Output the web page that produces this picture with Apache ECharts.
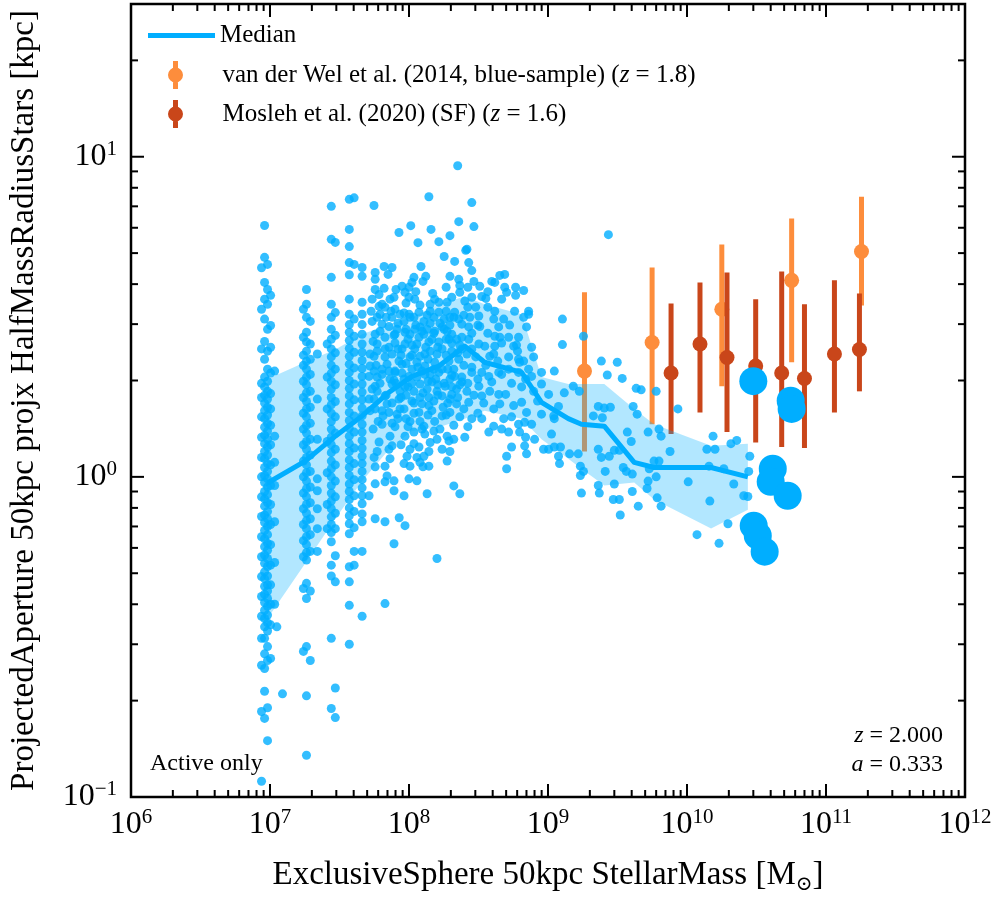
<!DOCTYPE html>
<html>
<head>
<meta charset="utf-8">
<title>Size - stellar mass relation</title>
<script src="https://cdn.jsdelivr.net/npm/echarts@6/dist/echarts.min.js"></script>
<style>
  html, body { margin: 0; padding: 0; background: #fff; }
  #chart { width: 996px; height: 900px; }
</style>
</head>
<body>
<div id="chart"></div>
<script>
// ---------- values ----------
var medianMass   = [9.6e6, 1.79e7, 2.95e7, 4.6e7, 7.2e7, 1.05e8, 1.64e8, 2.52e8, 3.5e8, 6.46e8, 8.98e8, 1.40e9, 1.74e9, 2.54e9, 4.17e9, 5.8e9, 1.49e10, 2.74e10];
var medianRadius = [0.957, 1.12, 1.34, 1.55, 1.84, 2.06, 2.22, 2.56, 2.28, 2.12, 1.71, 1.52, 1.46, 1.44, 1.11, 1.07, 1.07, 1.0];
var bandUpper    = [2.02, 2.28, 2.50, 2.79, 3.0, 3.15, 3.46, 3.66, 3.46, 3.22, 2.05, 1.95, 1.95, 1.95, 1.63, 1.46, 1.25, 1.27];
var bandLower    = [0.361, 0.536, 0.74, 0.97, 1.22, 1.39, 1.43, 1.52, 1.61, 1.52, 1.31, 1.14, 1.06, 0.94, 0.96, 0.85, 0.69, 0.79];

var vdwMass   = [1.83e9, 5.61e9, 1.78e10, 5.66e10, 1.80e11];
var vdwRadius = [2.14, 2.63, 3.34, 4.11, 5.06];
var vdwLow    = [1.20, 1.46, 1.92, 2.28, 3.43];
var vdwHigh   = [3.77, 4.51, 5.32, 6.41, 7.5];

var moslehMass   = [7.68e9, 1.24e10, 1.94e10, 3.12e10, 4.80e10, 7.0e10, 1.15e11, 1.74e11];
var moslehRadius = [2.11, 2.60, 2.36, 2.22, 2.11, 2.03, 2.42, 2.50];
var moslehLow    = [1.36, 1.59, 1.38, 1.28, 1.24, 1.23, 1.59, 1.85];
var moslehHigh   = [3.48, 4.05, 4.35, 3.59, 4.38, 3.46, 4.11, 3.74];

// galaxies at the low-mass resolution steps (one mass per column)
var columnMass = [8.69e6, 9.14e6, 9.6e6, 1.01e7, 1.08e7, 1.74e7, 1.83e7, 1.95e7, 2.19e7, 2.58e7, 2.76e7, 2.95e7, 3.72e7, 4.03e7, 4.6e7];
var columnRadius = [
  [4.5, 3.34, 2.51, 1.96, 1.77, 1.54, 1.33, 1.15, 1.0, 0.866, 0.752, 0.65, 0.563, 0.488, 0.423, 0.367, 0.313, 0.258, 0.185, 0.112],
  [6.1, 4.85, 4.05, 3.59, 3.11, 2.65, 2.33, 2.05, 1.91, 1.80, 1.70, 1.61, 1.52, 1.43, 1.35, 1.27, 1.20, 1.14, 1.07, 1.01, 0.96, 0.90, 0.854, 0.81, 0.76, 0.72, 0.68, 0.641, 0.605, 0.57, 0.537, 0.505, 0.481, 0.455, 0.43, 0.405, 0.383, 0.361, 0.34, 0.313, 0.28, 0.252, 0.214, 0.176],
  [4.61, 3.85, 3.46, 2.89, 2.47, 2.17, 1.99, 1.85, 1.75, 1.65, 1.56, 1.47, 1.39, 1.31, 1.24, 1.17, 1.10, 1.04, 0.986, 0.93, 0.88, 0.83, 0.78, 0.74, 0.70, 0.66, 0.62, 0.59, 0.556, 0.525, 0.49, 0.46, 0.44, 0.417, 0.394, 0.37, 0.35, 0.33, 0.295, 0.267, 0.19, 0.15],
  [3.69, 2.97, 2.54, 2.11, 1.82, 1.63, 1.45, 1.26, 1.09, 0.94, 0.82, 0.71, 0.614, 0.53, 0.46, 0.40, 0.345, 0.271],
  [2.14, 1.34, 1.11, 0.94, 0.724, 0.54, 0.40],
  [3.34, 2.73, 2.40, 2.23, 1.99, 1.77, 1.58, 1.41, 1.26, 1.12, 1.0, 0.89, 0.795, 0.71, 0.632, 0.563, 0.448, 0.285],
  [3.85, 3.46, 3.15, 2.83, 2.64, 2.47, 2.30, 2.17, 2.05, 1.94, 1.83, 1.72, 1.63, 1.54, 1.45, 1.37, 1.29, 1.22, 1.15, 1.09, 1.03, 0.97, 0.918, 0.866, 0.82, 0.77, 0.73, 0.689, 0.65, 0.614, 0.58, 0.55, 0.465, 0.417, 0.295, 0.207, 0.135],
  [3.06, 2.60, 2.33, 2.09, 1.85, 1.65, 1.47, 1.31, 1.17, 1.04, 0.93, 0.83, 0.74, 0.66, 0.585, 0.44, 0.267],
  [2.42, 1.75, 1.31, 0.986, 0.905, 0.795, 0.689, 0.585],
  [2.6, 2.05, 1.63, 1.29, 1.03, 0.82, 0.689],
  [7.0, 5.52, 4.2, 3.46, 3.15, 2.89, 2.69, 2.51, 2.37, 2.23, 2.11, 1.99, 1.88, 1.77, 1.68, 1.58, 1.49, 1.41, 1.33, 1.26, 1.19, 1.12, 1.06, 1.0, 0.94, 0.89, 0.84, 0.795, 0.75, 0.71, 0.67, 0.627, 0.53, 0.49, 0.313, 0.189],
  [5.4, 3.26, 2.77, 2.44, 2.17, 1.94, 1.72, 1.54, 1.37, 1.22, 1.09, 0.97, 0.866, 0.77, 0.689, 0.567, 0.47, 0.219, 0.177],
  [7.36, 5.93, 5.24, 4.67, 4.28, 3.59, 3.22, 2.99, 2.83, 2.67, 2.52, 2.38, 2.25, 2.12, 2.0, 1.89, 1.79, 1.69, 1.59, 1.50, 1.42, 1.34, 1.27, 1.20, 1.13, 1.07, 1.01, 0.95, 0.90, 0.85, 0.80, 0.756, 0.714, 0.664, 0.524, 0.47, 0.397, 0.30],
  [7.44, 4.61, 3.11, 2.75, 2.45, 2.19, 1.95, 1.74, 1.55, 1.38, 1.23, 1.10, 0.98, 0.873, 0.78, 0.694, 0.585, 0.53],
  [4.51, 4.23, 3.51, 3.22, 2.99, 2.79, 2.60, 2.45, 2.31, 2.18, 2.06, 1.95, 1.84, 1.74, 1.64, 1.55, 1.46, 1.38, 1.30, 1.23, 1.16, 1.10, 1.04, 0.98, 0.924, 0.873, 0.824, 0.766, 0.724, 0.585, 0.367]
];

// galaxies in the continuous part of the cloud: [mass, radius]
var cloudPoints = [
  [5.6e7, 7.04], [8.47e7, 5.80], [1.03e8, 6.09], [1.39e8, 7.50], [1.44e8, 5.93], [1.16e8, 5.39], [1.64e8, 5.43],
  [1.97e8, 5.67], [2.24e8, 9.37], [2.83e8, 7.19], [2.28e8, 6.27], [2.93e8, 6.05], [2.61e8, 5.14],
  [1.79e8, 4.88], [2.56e8, 5.10], [2.13e8, 4.71], [2.69e8, 4.67], [2.83e8, 4.41], [1.22e8, 4.54], [5.71e7, 4.35],
  [6.62e7, 4.54], [7.55e7, 4.51], [7.07e7, 4.29], [5.71e7, 4.14], [1.97e8, 4.23], [2.28e8, 4.14], [1.32e8, 4.23],
  [1.085e8, 4.20], [1.26e8, 4.08], [1.05e8, 4.05], [4.50e8, 4.26], [4.88e8, 4.29], [4.14e8, 4.05], [3.94e8, 4.08],
  [8.91e7, 3.94], [1.0e8, 3.91], [5.71e7, 3.85], [6.62e7, 3.88], [6.09e7, 3.71], [9.36e7, 3.77], [1.12e8, 3.79],
  [1.48e8, 3.74], [2.32e8, 3.77], [2.65e8, 3.91], [3.23e8, 3.94], [4.88e8, 3.91], [5.85e8, 3.91], [6.68e8, 3.82],
  [7.80e7, 3.64], [7.30e7, 3.59], [1.0e8, 3.64], [1.10e8, 3.59], [2.83e8, 3.64], [3.34e8, 3.66], [3.57e8, 3.61],
  [5.04e8, 3.77], [1.42e8, 3.46], [1.64e8, 3.51], [1.88e8, 3.51], [2.52e8, 3.54], [3.02e8, 3.39], [3.69e8, 3.39],
  [4.14e8, 3.29], [5.75e8, 3.29], [7.25e8, 3.29], [7.25e8, 3.22], [6.09e7, 3.41], [6.72e7, 3.39], [7.93e7, 3.34],
  [8.62e7, 3.22], [1.0e8, 3.22], [1.18e8, 3.27], [1.42e8, 3.29], [1.64e8, 3.27], [2.13e8, 3.27], [2.28e8, 3.11],
  [1.97e8, 3.15], [2.74e8, 3.15], [3.18e8, 3.18], [3.23e8, 2.95], [2.69e8, 2.94], [2.40e8, 3.0], [4.80e8, 3.11],
  [4.42e8, 2.94], [7.01e8, 2.94], [4.14e8, 2.75], [4.50e8, 2.73], [5.21e8, 2.73], [6.14e8, 2.73], [5.66e8, 2.56],
  [5.94e8, 2.58], [7.62e8, 2.54], [7.88e8, 2.37], [6.68e8, 2.30], [6.25e8, 2.28], [5.21e8, 2.37], [4.14e8, 2.56],
  [4.07e8, 2.42], [3.81e8, 2.38], [3.51e8, 2.56], [3.18e8, 2.60], [2.69e8, 2.69], [2.40e8, 2.73], [2.20e8, 2.69],
  [2.03e8, 2.79], [1.73e8, 2.94], [1.53e8, 2.85], [1.35e8, 2.89], [1.28e8, 2.79], [1.10e8, 2.89], [9.36e7, 2.83],
  [7.93e7, 2.79], [7.18e7, 2.95], [6.40e7, 3.0], [5.43e7, 3.06], [5.71e7, 2.79], [6.72e7, 2.73], [5.90e7, 2.60],
  [7.18e7, 2.54], [8.91e7, 2.51], [1.14e8, 2.60], [1.39e8, 2.64], [1.64e8, 2.64], [1.94e8, 2.69], [1.73e8, 2.51],
  [1.42e8, 2.47], [1.20e8, 2.38], [1.017e8, 2.37], [8.47e7, 2.30], [6.72e7, 2.37], [5.61e7, 2.38], [5.25e7, 2.22],
  [6.40e7, 2.17], [7.93e7, 2.14], [1.05e8, 2.17], [1.30e8, 2.22], [1.53e8, 2.28], [1.94e8, 2.30], [2.28e8, 2.33],
  [2.83e8, 2.20], [3.34e8, 2.12], [4.42e8, 2.12], [5.21e8, 2.17], [6.14e8, 2.33], [7.25e8, 2.17],
  [6.19e7, 3.22], [7.55e7, 3.15], [9.21e7, 3.06], [1.085e8, 3.15], [1.28e8, 3.06], [1.51e8, 3.15], [1.79e8, 3.11],
  [8.20e7, 2.89], [1.017e8, 2.79], [1.20e8, 2.94], [1.46e8, 2.69], [1.88e8, 2.85], [5.90e7, 2.47], [7.55e7, 2.42],
  [9.36e7, 2.60], [1.10e8, 2.51], [1.30e8, 2.42], [1.59e8, 2.42], [2.03e8, 2.47], [2.40e8, 2.51], [6.95e7, 2.25],
  [8.91e7, 2.25], [1.14e8, 2.28], [1.42e8, 2.09], [1.73e8, 2.17], [2.10e8, 2.17], [2.61e8, 2.42], [2.83e8, 2.51],
  [5.90e7, 2.05], [7.30e7, 2.02], [9.21e7, 2.02], [1.14e8, 2.05], [1.97e8, 2.02], [2.40e8, 2.05],
  [5.16e7, 2.06], [6.40e7, 2.09], [7.93e7, 2.12], [1.0e8, 2.06], [1.30e8, 2.09], [1.64e8, 2.12], [2.13e8, 2.06],
  [2.83e8, 2.12], [3.75e8, 2.06], [4.64e8, 2.09], [6.14e8, 2.12], [7.62e8, 2.06], [8.98e8, 2.12],
  [5.71e7, 1.92], [7.55e7, 1.95], [9.36e7, 1.91], [1.20e8, 1.95], [1.46e8, 1.98], [1.82e8, 1.92], [2.40e8, 1.98],
  [3.18e8, 1.92], [3.94e8, 1.98], [4.42e8, 1.81], [6.46e8, 1.91], [8.98e8, 1.95], [1.01e9, 1.81],
  [5.90e7, 1.85], [8.62e7, 1.85], [1.085e8, 1.85], [1.35e8, 1.88], [1.59e8, 1.85], [2.20e8, 1.88], [2.61e8, 1.85],
  [5.16e7, 1.75], [6.72e7, 1.79], [8.47e7, 1.75], [1.05e8, 1.725], [1.39e8, 1.77], [1.73e8, 1.79], [2.03e8, 1.81],
  [2.69e8, 1.71], [3.34e8, 1.79], [4.50e8, 1.69], [6.46e8, 1.71], [7.01e8, 1.59], [1.10e9, 1.55], [1.19e9, 1.66],
  [6.95e7, 1.69], [1.24e8, 1.69], [1.51e8, 1.725], [2.20e8, 1.69], [8.20e7, 1.57],
  [5.71e7, 1.63], [7.18e7, 1.59], [9.21e7, 1.63], [1.017e8, 1.49], [1.18e8, 1.59], [1.46e8, 1.61], [1.73e8, 1.55],
  [1.97e8, 1.59], [2.32e8, 1.54], [5.47e8, 1.54], [4.80e8, 1.52], [6.14e8, 1.46], [6.79e8, 1.48], [8.98e8, 1.57],
  [1.11e9, 1.52], [6.40e7, 1.46], [7.93e7, 1.435], [9.36e7, 1.34], [1.28e8, 1.44], [1.51e8, 1.39], [1.30e8, 1.36],
  [1.59e8, 1.31], [1.88e8, 1.34], [1.94e8, 1.295], [2.52e8, 1.33], [3.75e8, 1.38], [4.07e8, 1.44], [5.21e8, 1.38],
  [6.25e8, 1.38], [6.90e8, 1.33], [8.01e8, 1.31], [1.06e9, 1.36],
  [6.09e7, 1.285], [7.55e7, 1.25], [1.085e8, 1.27], [1.18e8, 1.24], [1.39e8, 1.20], [1.73e8, 1.22], [1.97e8, 1.20],
  [5.04e8, 1.16], [5.47e8, 1.24], [6.79e8, 1.25], [7.01e8, 1.18], [9.29e8, 1.22], [1.01e9, 1.22], [1.11e9, 1.24],
  [1.23e9, 1.24], [5.90e7, 1.20], [7.18e7, 1.22], [9.68e7, 1.16], [1.14e8, 1.15], [1.28e8, 1.16], [1.20e8, 1.11],
  [1.88e8, 1.12], [5.71e7, 1.075], [6.72e7, 1.08], [9.21e7, 1.10], [1.39e8, 1.08], [1.017e8, 1.08], [5.04e8, 1.06],
  [1.19e9, 1.16], [1.21e9, 1.10],
  [6.95e7, 1.007], [7.80e7, 0.972], [6.72e7, 0.965], [1.0e8, 0.986], [1.14e8, 0.972], [2.10e8, 0.937], [2.32e8, 0.886],
  [1.35e8, 0.886], [9.21e7, 0.873], [7.80e7, 0.905], [5.71e7, 0.951], [5.16e7, 0.873],
  [8.5e7, 0.745], [7.8e7, 0.618], [6.72e7, 0.724], [5.71e7, 0.74], [9.36e7, 0.704], [6.72e7, 0.402], [1.59e8, 0.556],
  // denser core of the cloud
  [5.34e7, 3.29], [6.84e7, 3.15], [8.33e7, 3.02], [5.52e7, 2.65], [7.93e7, 2.62], [5.25e7, 2.42], [8.76e7, 2.40],
  [5.80e7, 2.23], [7.80e7, 2.0], [5.43e7, 1.88], [6.84e7, 1.80], [8.76e7, 1.77], [5.25e7, 1.61], [6.51e7, 1.55],
  [8.33e7, 1.52], [5.52e7, 1.41], [7.30e7, 1.34], [8.76e7, 1.26], [5.61e7, 1.15], [7.30e7, 1.14], [6.40e7, 3.46],
  [8.06e7, 3.85], [5.43e7, 3.59],
  [9.52e7, 3.49], [1.20e8, 3.44], [1.53e8, 3.59], [1.017e8, 3.15], [1.35e8, 3.20], [1.67e8, 3.02], [9.52e7, 2.89],
  [1.18e8, 2.73], [1.51e8, 2.81], [1.05e8, 2.58], [1.32e8, 2.54], [9.52e7, 2.26], [1.24e8, 2.14], [1.56e8, 2.02],
  [9.84e7, 1.91], [1.26e8, 1.83], [1.61e8, 1.94], [1.085e8, 1.70], [1.39e8, 1.67], [1.76e8, 1.65], [9.52e7, 1.52],
  [1.20e8, 1.49], [1.53e8, 1.49], [1.085e8, 1.38], [1.42e8, 1.28], [1.017e8, 1.22], [1.26e8, 1.075],
  [1.85e8, 3.91], [2.32e8, 3.96], [2.93e8, 4.08], [2.03e8, 3.64], [2.65e8, 3.39], [1.85e8, 3.29], [2.48e8, 3.20],
  [3.13e8, 2.98], [1.97e8, 2.98], [2.83e8, 2.81], [1.85e8, 2.69], [2.32e8, 2.58], [3.02e8, 2.37], [1.90e8, 2.17],
  [2.48e8, 2.23], [3.13e8, 2.02], [2.03e8, 1.91], [2.65e8, 1.96], [2.24e8, 1.77], [2.93e8, 1.80], [1.90e8, 1.70],
  [2.48e8, 1.63], [3.13e8, 1.58], [2.10e8, 1.45], [2.65e8, 1.435],
  [3.69e8, 3.79], [4.64e8, 3.59], [5.85e8, 3.69], [4.07e8, 3.11], [5.30e8, 2.98], [6.68e8, 3.15], [3.69e8, 2.81],
  [4.64e8, 2.62], [6.04e8, 2.47], [3.57e8, 2.23], [4.35e8, 2.30], [5.47e8, 1.96], [6.90e8, 2.02], [3.81e8, 1.85],
  [4.96e8, 1.81], [7.88e8, 1.85], [4.07e8, 1.63], [5.66e8, 1.67], [8.41e8, 1.725], [3.34e8, 1.52], [4.64e8, 1.41],
  [7.62e8, 1.46],
  [5.90e7, 3.15], [7.42e7, 3.29], [9.21e7, 3.25], [1.12e8, 2.98], [1.42e8, 3.02], [1.79e8, 2.89], [2.10e8, 3.15],
  [6.19e7, 2.85], [7.80e7, 2.77], [9.84e7, 2.69], [1.24e8, 2.85], [1.61e8, 2.54], [2.03e8, 2.62],
  [6.72e7, 2.51], [8.33e7, 2.51], [1.05e8, 2.40], [1.37e8, 2.33], [1.85e8, 2.40], [2.24e8, 2.44],
  [5.61e7, 2.14], [7.18e7, 2.14], [8.91e7, 2.11], [1.16e8, 2.20], [1.51e8, 2.17], [2.03e8, 2.08],
  [6.19e7, 1.96], [8.06e7, 1.96], [1.05e8, 1.96], [1.37e8, 1.99], [1.79e8, 1.96], [2.32e8, 1.94],
  [5.61e7, 1.75], [7.55e7, 1.70], [9.52e7, 1.80], [1.20e8, 1.77], [1.61e8, 1.80], [1.97e8, 1.75],
  [6.40e7, 1.61], [8.62e7, 1.63], [1.085e8, 1.58], [1.37e8, 1.56], [1.85e8, 1.56],
  [6.0e7, 1.49], [7.55e7, 1.47], [9.84e7, 1.435], [1.24e8, 1.41], [1.67e8, 1.41], [2.10e8, 1.31], [2.83e8, 1.52],
  [3.45e8, 1.70]
];

// isolated small points
var sparsePoints = [
  [1.23e7, 0.21], [1.12e7, 0.34],
  [1.27e9, 3.11], [1.27e9, 2.59], [1.80e9, 2.75], [2.72e9, 5.71], [1.11e9, 2.14],
  [1.52e9, 1.92], [1.68e9, 1.85], [2.42e9, 2.30], [3.15e9, 2.28], [2.67e9, 2.08], [3.42e9, 2.03], [4.31e9, 1.89],
  [4.68e9, 1.87], [6.0e9, 1.85], [8.6e9, 1.63], [4.10e9, 1.66], [4.38e9, 1.57], [2.30e9, 1.66], [2.54e9, 1.64],
  [2.81e9, 1.65], [2.12e9, 1.55], [2.46e9, 1.53], [1.31e9, 1.83],
  [1.43e9, 1.18], [1.65e9, 1.18], [1.71e9, 1.08], [1.80e9, 1.04], [1.71e9, 1.01], [2.30e9, 1.22], [2.42e9, 1.15],
  [2.76e9, 1.16], [3.0e9, 1.21], [3.26e9, 1.21], [3.72e9, 1.38], [3.97e9, 1.29], [2.58e9, 1.04], [3.66e9, 1.04],
  [4.04e9, 1.02], [3.48e9, 1.07], [5.25e9, 1.38], [6.29e9, 1.41], [6.51e9, 1.34], [5.79e9, 1.12], [6.29e9, 1.12],
  [5.35e9, 1.06], [6.0e9, 1.0], [5.25e9, 0.97], [7.55e9, 1.20],
  [2.30e9, 0.94], [1.74e9, 0.89], [2.34e9, 0.89], [3.0e9, 0.95], [2.95e9, 0.85], [3.26e9, 0.85], [4.04e9, 0.90],
  [5.16e9, 0.92], [6.1e9, 0.86], [6.51e9, 0.81], [4.46e9, 0.81], [3.31e9, 0.76],
  [1.02e10, 0.965], [1.54e10, 1.34], [1.39e10, 1.22], [1.59e10, 1.22], [2.07e10, 1.27], [2.28e10, 1.30],
  [1.44e10, 1.08], [1.84e10, 1.06], [2.17e10, 0.95], [2.83e10, 1.16], [2.78e10, 1.04], [2.56e10, 0.873],
  [2.74e10, 0.868], [1.46e10, 0.84], [1.97e10, 0.714], [1.18e10, 0.66], [1.70e10, 0.62]
];

// galaxies in bins too sparse for a median (large markers)
var bigMass   = [3.0e10, 5.57e10, 5.66e10, 4.14e10, 4.0e10, 5.3e10, 3.02e10, 3.23e10, 3.62e10];
var bigRadius = [1.99, 1.73, 1.63, 1.06, 0.965, 0.873, 0.704, 0.655, 0.584];

var X_MIN = 1e6, X_MAX = 1e12, Y_MIN = 0.1, Y_MAX = 30;
var xDecades = [6, 7, 8, 9, 10, 11];
var yDecades = [-1, 0, 1];

var BLUE = '#00aeff';
var ORANGE = '#fd8d3c';
var RUST = '#c9461a';
var SERIF = '"Liberation Serif", "DejaVu Serif", serif';

var VDW_NAME = 'van der Wel et al. (2014, blue-sample) (z = 1.8)';
var MOSLEH_NAME = 'Mosleh et al. (2020) (SF) (z = 1.6)';
var legendText = {};
legendText[VDW_NAME] = 'van der Wel et al. (2014, blue-sample) ({it|z} = 1.8)';
legendText[MOSLEH_NAME] = 'Mosleh et al. (2020) (SF) ({it|z} = 1.6)';

// circle with a vertical bar, used as the error-bar legend icon
var ERR_ICON = 'path://M5.5 0 L10.5 0 L10.5 28 L5.5 28 Z M0.5 14 A7.5 7.5 0 1 1 15.5 14 A7.5 7.5 0 1 1 0.5 14 Z';

// ---------- build series data ----------
var smallPoints = [];
columnMass.forEach(function (m, i) {
    columnRadius[i].forEach(function (r) { smallPoints.push([m, r]); });
});
cloudPoints.forEach(function (p) { smallPoints.push(p); });
sparsePoints.forEach(function (p) { smallPoints.push(p); });

var medianData = medianMass.map(function (m, i) { return [m, medianRadius[i]]; });
var bigData = bigMass.map(function (m, i) { return [m, bigRadius[i]]; });
var vdwData = vdwMass.map(function (m, i) { return [m, vdwRadius[i], vdwLow[i], vdwHigh[i]]; });
var moslehData = moslehMass.map(function (m, i) { return [m, moslehRadius[i], moslehLow[i], moslehHigh[i]]; });

// tick marks: [x, y, kind]  kind 1/2 = x minor/major, 3/4 = y minor/major
var tickData = [];
xDecades.forEach(function (d) {
    for (var k = 1; k < 10; k++) tickData.push([k * Math.pow(10, d), Y_MIN, k === 1 ? 2 : 1]);
});
tickData.push([X_MAX, Y_MIN, 2]);
yDecades.forEach(function (d) {
    for (var k = 1; k < 10; k++) {
        var v = k * Math.pow(10, d);
        if (v <= Y_MAX * 1.0001) tickData.push([X_MIN, v, k === 1 ? 4 : 3]);
    }
});

function renderTick(params, api) {
    var kind = api.value(2);
    var lo = api.coord([X_MIN, Y_MIN]);
    var hi = api.coord([X_MAX, Y_MAX]);
    var len = (kind === 2 || kind === 4) ? 13 : 7;
    var style = { stroke: '#000', lineWidth: 2 };
    if (kind <= 2) {
        var x = api.coord([api.value(0), Y_MIN])[0];
        return { type: 'group', children: [
            { type: 'line', shape: { x1: x, y1: lo[1], x2: x, y2: lo[1] - len }, style: style },
            { type: 'line', shape: { x1: x, y1: hi[1], x2: x, y2: hi[1] + len }, style: style }
        ] };
    }
    var y = api.coord([X_MIN, api.value(1)])[1];
    return { type: 'group', children: [
        { type: 'line', shape: { x1: lo[0], y1: y, x2: lo[0] + len, y2: y }, style: style },
        { type: 'line', shape: { x1: hi[0], y1: y, x2: hi[0] - len, y2: y }, style: style }
    ] };
}

function renderErrorBar(params, api) {
    var x = api.value(0);
    var c = api.coord([x, api.value(1)]);
    var lo = api.coord([x, api.value(2)]);
    var hi = api.coord([x, api.value(3)]);
    var color = api.visual('color');
    return { type: 'group', children: [
        { type: 'rect', shape: { x: c[0] - 2.5, y: hi[1], width: 5, height: lo[1] - hi[1] }, style: { fill: color } },
        { type: 'circle', shape: { cx: c[0], cy: c[1], r: 7.5 }, style: { fill: color } }
    ] };
}

function renderBand(params, api) {
    var pts = [];
    for (var i = 0; i < medianMass.length; i++) pts.push(api.coord([medianMass[i], bandUpper[i]]));
    for (var j = medianMass.length - 1; j >= 0; j--) pts.push(api.coord([medianMass[j], bandLower[j]]));
    return { type: 'polygon', shape: { points: pts }, style: { fill: 'rgba(0,174,255,0.3)' } };
}

function powerLabel(value) {
    var e = Math.log10(value);
    var r = Math.round(e);
    if (Math.abs(e - r) > 1e-6) return '';
    return '{b|10}{s|' + (r < 0 ? '\u2212' + (-r) : r) + '}';
}

var labelRich = {
    b: { fontFamily: SERIF, fontSize: 32, lineHeight: 36, color: '#000' },
    s: { fontFamily: SERIF, fontSize: 21, lineHeight: 21, verticalAlign: 'top', color: '#000' }
};

var option = {
    backgroundColor: '#fff',
    animation: false,
    grid: {
        left: 128, right: 31, top: 4, bottom: 101,
        show: true, borderColor: '#000', borderWidth: 2.5, backgroundColor: 'transparent'
    },
    xAxis: {
        type: 'log', logBase: 10, min: X_MIN, max: X_MAX, splitNumber: 6,
        axisLine: { show: false }, axisTick: { show: false }, splitLine: { show: false },
        axisLabel: { formatter: powerLabel, margin: 10, hideOverlap: false, rich: labelRich },
        name: 'ExclusiveSphere 50kpc StellarMass [M{sub|\u2299}]',
        nameLocation: 'middle', nameGap: 58,
        nameTextStyle: {
            fontFamily: SERIF, fontSize: 33, color: '#000', lineHeight: 40,
            rich: { sub: { fontFamily: '"DejaVu Serif", serif', fontSize: 20, lineHeight: 20, verticalAlign: 'bottom', color: '#000' } }
        }
    },
    yAxis: {
        type: 'log', logBase: 10, min: Y_MIN, max: Y_MAX, splitNumber: 3,
        axisLine: { show: false }, axisTick: { show: false }, splitLine: { show: false },
        axisLabel: { formatter: powerLabel, margin: 14, hideOverlap: false, rich: labelRich },
        name: 'ProjectedAperture 50kpc projx HalfMassRadiusStars [kpc]',
        nameLocation: 'middle', nameGap: 90,
        nameTextStyle: { fontFamily: SERIF, fontSize: 33, color: '#000' }
    },
    legend: [{
        data: [{ name: 'Median', icon: 'rect' }],
        left: 143, top: 18, itemWidth: 67, itemHeight: 5, selectedMode: false,
        textStyle: { fontFamily: SERIF, fontSize: 25, color: '#000' }
    }, {
        data: [{ name: VDW_NAME, icon: ERR_ICON }, { name: MOSLEH_NAME, icon: ERR_ICON }],
        orient: 'vertical', left: 163, top: 56, itemWidth: 16, itemHeight: 28, itemGap: 11, selectedMode: false,
        formatter: function (name) { return legendText[name] || name; },
        textStyle: {
            fontFamily: SERIF, fontSize: 25, color: '#000', padding: [0, 0, 0, 34],
            rich: { it: { fontFamily: SERIF, fontSize: 25, fontStyle: 'italic', color: '#000' } }
        }
    }],
    graphic: [
        { type: 'text', left: 150, top: 752, silent: true,
          style: { text: 'Active only', fontFamily: SERIF, fontSize: 24, fill: '#000' } },
        { type: 'text', right: 53, top: 724, silent: true,
          style: { text: '{it|z} = 2.000', fontFamily: SERIF, fontSize: 24, fill: '#000',
                   rich: { it: { fontFamily: SERIF, fontSize: 24, fontStyle: 'italic', fill: '#000' } } } },
        { type: 'text', right: 53, top: 753, silent: true,
          style: { text: '{it|a} = 0.333', fontFamily: SERIF, fontSize: 24, fill: '#000',
                   rich: { it: { fontFamily: SERIF, fontSize: 24, fontStyle: 'italic', fill: '#000' } } } }
    ],
    series: [{
        name: VDW_NAME, type: 'custom', renderItem: renderErrorBar, data: vdwData,
        encode: { x: 0, y: [1, 2, 3] }, itemStyle: { color: ORANGE }, z: 1, silent: true
    }, {
        name: MOSLEH_NAME, type: 'custom', renderItem: renderErrorBar, data: moslehData,
        encode: { x: 0, y: [1, 2, 3] }, itemStyle: { color: RUST }, z: 1, silent: true
    }, {
        name: 'band', type: 'custom', renderItem: renderBand, data: [[medianMass[0], medianRadius[0]]],
        z: 2, silent: true
    }, {
        name: 'galaxies', type: 'scatter', data: smallPoints, symbolSize: 9,
        itemStyle: { color: BLUE, opacity: 0.8 }, z: 3, silent: true, large: false
    }, {
        name: 'Median', type: 'line', data: medianData, showSymbol: false, symbol: 'none',
        lineStyle: { color: BLUE, width: 5, join: 'round' }, itemStyle: { color: BLUE }, z: 4, silent: true
    }, {
        name: 'sparse bins', type: 'scatter', data: bigData, symbolSize: 28,
        itemStyle: { color: BLUE, opacity: 1 }, z: 5, silent: true
    }, {
        name: 'ticks', type: 'custom', renderItem: renderTick, data: tickData,
        encode: { x: 0, y: 1 }, z: 6, silent: true
    }]
};

var chart = echarts.init(document.getElementById('chart'));
chart.setOption(option);
</script>
</body>
</html>
